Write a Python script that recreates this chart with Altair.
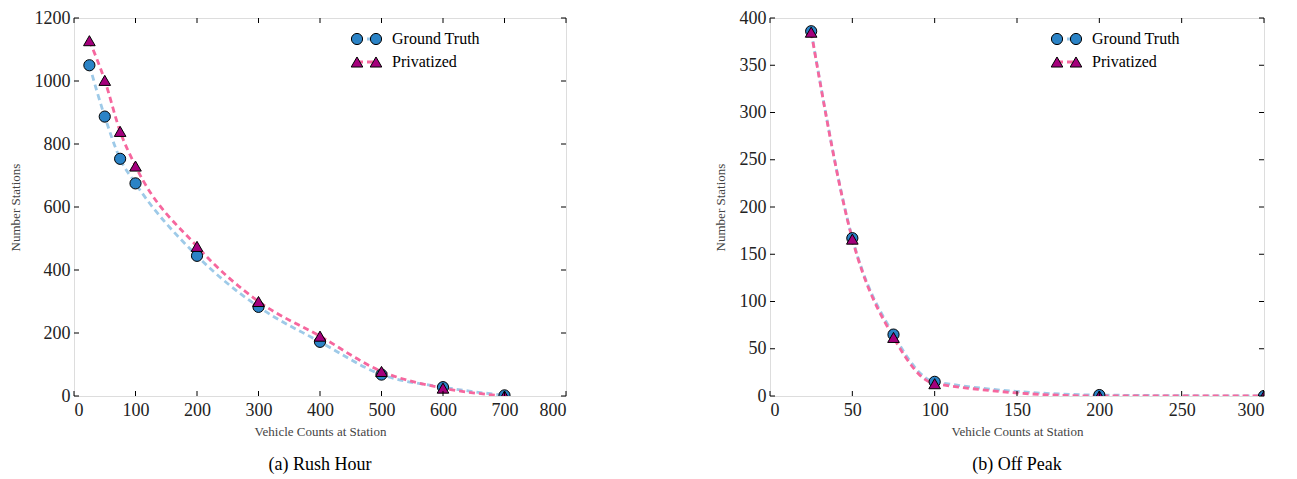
import altair as alt
import pandas as pd

# ---- data ----
rush_x = [25, 50, 75, 100, 200, 300, 400, 500, 600, 700]
rush_gt = [1050, 887, 753, 675, 445, 283, 172, 68, 28, 2]
rush_priv = [1128, 1002, 840, 730, 475, 300, 190, 78, 25, 0]

off_x = [25, 50, 75, 100, 200, 300]
off_gt = [386, 167, 65, 15, 1, 0]
off_priv = [385, 166, 62, 13, 0, 0]

rush_xticks = [0, 100, 200, 300, 400, 500, 600, 700, 800]
rush_yticks = [0, 200, 400, 600, 800, 1000, 1200]
off_xticks = [0, 50, 100, 150, 200, 250, 300]
off_yticks = [0, 50, 100, 150, 200, 250, 300, 350, 400]

series = ["Ground Truth", "Privatized"]
marker_fill = {"Ground Truth": "#2b83c6", "Privatized": "#a4007c"}
line_col = {"Ground Truth": "#9ecae8", "Privatized": "#f6679e"}
shapes = {"Ground Truth": "circle", "Privatized": "triangle-up"}
sizes = {"Ground Truth": 125, "Privatized": 135}

SERIF = "Liberation Serif"
H = 378


def panel(xs, gt, priv, xticks, yticks, caption, W, legend_dx):
    xdom = [xticks[0], xticks[-1]]
    ydom = [yticks[0], yticks[-1]]
    xs_ = alt.Scale(domain=xdom, nice=False, zero=False)
    ys_ = alt.Scale(domain=ydom, nice=False, zero=False)
    xenc = alt.X("x:Q", scale=xs_, axis=alt.Axis(
        values=xticks, format="d", ticks=False, domain=False, grid=False, labelFont=SERIF,
        labelFontSize=18, labelColor="#222", labelPadding=5,
        title="Vehicle Counts at Station", titleFont=SERIF, titleFontSize=13,
        titleFontWeight="normal", titleColor="#444", titlePadding=6))
    yenc = alt.Y("y:Q", scale=ys_, axis=alt.Axis(
        values=yticks, format="d", ticks=False, domain=False, grid=False, labelFont=SERIF,
        labelFontSize=18, labelColor="#222", labelPadding=4,
        title="Number Stations", titleFont=SERIF, titleFontSize=13,
        titleFontWeight="normal", titleColor="#444", titlePadding=12))

    rows = []
    for s, vals in zip(series, [gt, priv]):
        for i, (a, b) in enumerate(zip(xs, vals)):
            rows.append({"x": a, "y": b, "s": s, "o": i})
    df = pd.DataFrame(rows)

    layers = []
    for s in series:
        d = df[df.s == s]
        layers.append(alt.Chart(d).mark_line(
            strokeDash=[6, 4], strokeWidth=2.8, color=line_col[s], clip=True,
            interpolate="monotone"
        ).encode(x=xenc, y=yenc, order="o:Q"))
    for s in series:
        d = df[df.s == s]
        layers.append(alt.Chart(d).mark_point(
            shape=shapes[s], filled=True, fill=marker_fill[s], stroke="black",
            strokeWidth=1, opacity=1, size=sizes[s], clip=True
        ).encode(x=alt.X("x:Q", scale=xs_), y=alt.Y("y:Q", scale=ys_)))

    # inward ticks
    xt = pd.DataFrame({"x": xticks})
    yt = pd.DataFrame({"y": yticks})
    layers.append(alt.Chart(xt).mark_rule(color="black", strokeWidth=1).encode(
        x=alt.X("x:Q", scale=xs_), y=alt.value(H), y2=alt.value(H - 5)))
    layers.append(alt.Chart(xt).mark_rule(color="black", strokeWidth=1).encode(
        x=alt.X("x:Q", scale=xs_), y=alt.value(0), y2=alt.value(5)))
    layers.append(alt.Chart(yt).mark_rule(color="black", strokeWidth=1).encode(
        y=alt.Y("y:Q", scale=ys_), x=alt.value(0), x2=alt.value(5)))
    layers.append(alt.Chart(yt).mark_rule(color="black", strokeWidth=1).encode(
        y=alt.Y("y:Q", scale=ys_), x=alt.value(W), x2=alt.value(W - 5)))

    # legend (inside, top right)
    lx = W - legend_dx
    ld = pd.DataFrame({"a": [0]})
    for k, s in enumerate(series):
        ly = 21 + k * 23
        layers.append(alt.Chart(ld).mark_rule(
            color=line_col[s], strokeWidth=2.8, strokeDash=[6, 4]).encode(
            x=alt.value(lx), x2=alt.value(lx + 19), y=alt.value(ly)))
        for px in (lx, lx + 19):
            layers.append(alt.Chart(ld).mark_point(
                shape=shapes[s], filled=True, fill=marker_fill[s], stroke="black",
                strokeWidth=1, opacity=1, size=sizes[s]
            ).encode(x=alt.value(px), y=alt.value(ly)))
        layers.append(alt.Chart(ld).mark_text(
            text=s, font=SERIF, fontSize=16, align="left", baseline="middle",
            color="black").encode(x=alt.value(lx + 35), y=alt.value(ly)))

    ch = alt.layer(*layers).properties(
        width=W, height=H,
        title=alt.TitleParams(caption, orient="bottom", font=SERIF, fontSize=18,
                              fontWeight="normal", color="black", offset=18,
                              anchor="middle"))
    return ch


left = panel(rush_x, rush_gt, rush_priv, rush_xticks, rush_yticks, "(a) Rush Hour", 492, 209)
right = panel(off_x, off_gt, off_priv, off_xticks, off_yticks, "(b) Off Peak", 494, 207)

chart = alt.hconcat(left, right, spacing=146).configure_view(
    stroke="black", strokeWidth=1
).configure(background="white").properties(
    padding={"left": 0, "top": 0, "right": 0, "bottom": 0}
)

chart.save("out.html", embed_options={"renderer": "svg", "actions": False})
